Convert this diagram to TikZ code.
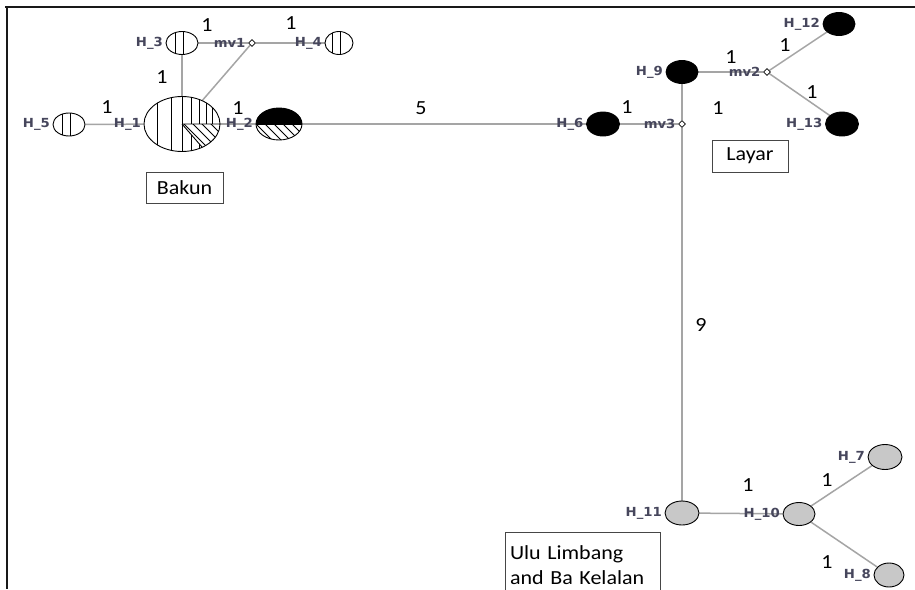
\documentclass[tikz,border=0pt]{standalone}
\usepackage{fontspec}
\usetikzlibrary{shapes.geometric,backgrounds}
\newfontfamily\lblfont[FakeStretch=1.06]{DejaVu Sans Bold}
\newfontfamily\numfont[FakeStretch=1.1]{Carlito}
\definecolor{edgegray}{RGB}{165,165,165}
\definecolor{lblcol}{RGB}{70,70,92}
\definecolor{hapgray}{RGB}{200,200,200}
\definecolor{boxline}{RGB}{70,70,70}
\begin{document}
\begin{tikzpicture}[x=1pt,y=-1pt,
  label distance=2.5pt,
  edge/.style={draw=edgegray,line width=1.5pt},
  hap/.style={ellipse,draw=black,line width=0.9pt,inner sep=0pt},
  sz/.style 2 args={minimum width=#1pt,minimum height=#2pt},
  lbl/.style={font=\lblfont\fontsize{12.5}{13}\selectfont,text=lblcol,inner sep=0pt},
  hl/.style={label={[lbl]left:#1}},
  num/.style={font=\numfont\fontsize{20}{20}\selectfont,inner sep=0pt},
  boxtxt/.style={draw=boxline,line width=0.8pt,font=\numfont\fontsize{20}{25}\selectfont,inner sep=0pt},
  mv/.style={diamond,draw=black,fill=white,line width=0.7pt,minimum size=7pt,inner sep=0pt},
  blackhap/.style={hap,fill=black},
  grayhap/.style={hap,fill=hapgray},
  hatch/.style={line width=0.9pt},
  split/.style={path picture={
    \draw[hatch] ([xshift=-7pt]path picture bounding box.north) -- ([xshift=-7pt]path picture bounding box.south)
                 ([xshift=1pt]path picture bounding box.north) -- ([xshift=1pt]path picture bounding box.south);}},
]
\useasboundingbox (0,0) rectangle (915,589);

% ---- haplotype nodes ----
\node[hap,sz={76}{55},hl={H\_1},path picture={
  \begin{scope}[shift={(path picture bounding box.center)}]
    \foreach \d in {-25,-11,0,9,17,24,30} \draw[hatch] (\d,-40) -- (\d,40);
    \fill[white] (0,0) -- (60,0) -- (60,69) -- cycle;
    \begin{scope}
      \clip (0,0) -- (60,0) -- (60,69) -- cycle;
      \foreach \s in {-30,-21,...,60} \draw[hatch] (\s,-5) -- (\s+60,55);
    \end{scope}
    \draw[hatch] (0,0) -- (50,0) (0,0) -- (40,46);
  \end{scope}}] (H1) at (182,124) {};

\node[hap,sz={46}{32},hl={H\_2},path picture={
  \begin{scope}[shift={(path picture bounding box.center)}]
    \fill[black] (-30,0) rectangle (30,-20);
    \begin{scope}
      \clip (-30,0) rectangle (30,20);
      \foreach \s in {-50,-41,...,30} \draw[hatch] (\s,0) -- (\s+25,25);
    \end{scope}
    \draw[hatch] (-30,0) -- (30,0);
  \end{scope}}] (H2) at (279,124) {};

\node[hap,sz={32}{23},hl={H\_3},split] (H3) at (182,43) {};
\node[hap,sz={28}{23},hl={H\_4},split] (H4) at (339,43) {};
\node[hap,sz={32}{23},hl={H\_5},split] (H5) at (69,124.5) {};
\node[mv,hl={mv1}] (mv1) at (252,43) {};

\node[blackhap,sz={33}{24},hl={H\_6}] (H6) at (603,124) {};
\node[mv,hl={mv3}] (mv3) at (682,124) {};
\node[blackhap,sz={32}{23},hl={H\_9}] (H9) at (682,72) {};
\node[mv,hl={mv2}] (mv2) at (767,72) {};
\node[blackhap,sz={32}{23},hl={H\_12}] (H12) at (839,24) {};
\node[blackhap,sz={33}{24},hl={H\_13}] (H13) at (842,124) {};

\node[grayhap,sz={34}{24},hl={H\_11}] (H11) at (682,513) {};
\node[grayhap,sz={32}{23},hl={H\_10}] (H10) at (799,514) {};
\node[grayhap,sz={34}{25},hl={H\_7}] (H7) at (885,457) {};
\node[grayhap,sz={30}{24},hl={H\_8}] (H8) at (889,575) {};

% ---- edges and frame (behind) ----
\begin{scope}[on background layer]
  \fill[white] (0,0) rectangle (915,589);
  \draw[line width=2.2pt,draw={rgb,255:red,25;green,25;blue,25}] (5,7) -- (915,7);
  \draw[line width=2.2pt,draw={rgb,255:red,25;green,25;blue,25}] (7,6) -- (7,589);
  \draw[edge] (H5) -- (H1);
  \draw[edge] (H3) -- (H1);
  \draw[edge] (H3) -- (mv1);
  \draw[edge] (mv1) -- (H4);
  \draw[edge] (mv1) -- (H1);
  \draw[edge] (H1) -- (H2);
  \draw[edge] (H2) -- (H6);
  \draw[edge] (H6) -- (mv3);
  \draw[edge] (H9) -- (mv3);
  \draw[edge] (mv3) -- (H11);
  \draw[edge] (H9) -- (mv2);
  \draw[edge] (mv2) -- (H12);
  \draw[edge] (mv2) -- (H13);
  \draw[edge] (H11) -- (H10);
  \draw[edge] (H10) -- (H7);
  \draw[edge] (H10) -- (H8);
\end{scope}

% ---- mutation counts ----
\node[num] (n1) at (207,25) {1};
\node[num] (n2) at (291,23) {1};
\node[num] (n3) at (162,77) {1};
\node[num] (n4) at (107,107) {1};
\node[num] (n5) at (238,108) {1};
\node[num] (n6) at (421,108) {5};
\node[num] (n7) at (627,107) {1};
\node[num] (n8) at (718,108) {1};
\node[num] (n9) at (731,57) {1};
\node[num] (n10) at (785,45) {1};
\node[num] (n11) at (812,92) {1};
\node[num] (n12) at (701,325) {9};
\node[num] (n13) at (748,485) {1};
\node[num] (n14) at (827,480) {1};
\node[num] (n15) at (827,562) {1};

% ---- region boxes ----
\node[boxtxt,minimum width=77pt,minimum height=31pt] (bakun) at (184.5,187.5) {Bakun};
\node[boxtxt,minimum width=76pt,minimum height=32pt] (layar) at (750,156) {Layar};
\node[boxtxt,minimum width=155pt,minimum height=66pt,text width=145pt,align=left] (ulu) at (582.5,565) {Ulu Limbang\\and Ba Kelalan};
\end{tikzpicture}
\end{document}
